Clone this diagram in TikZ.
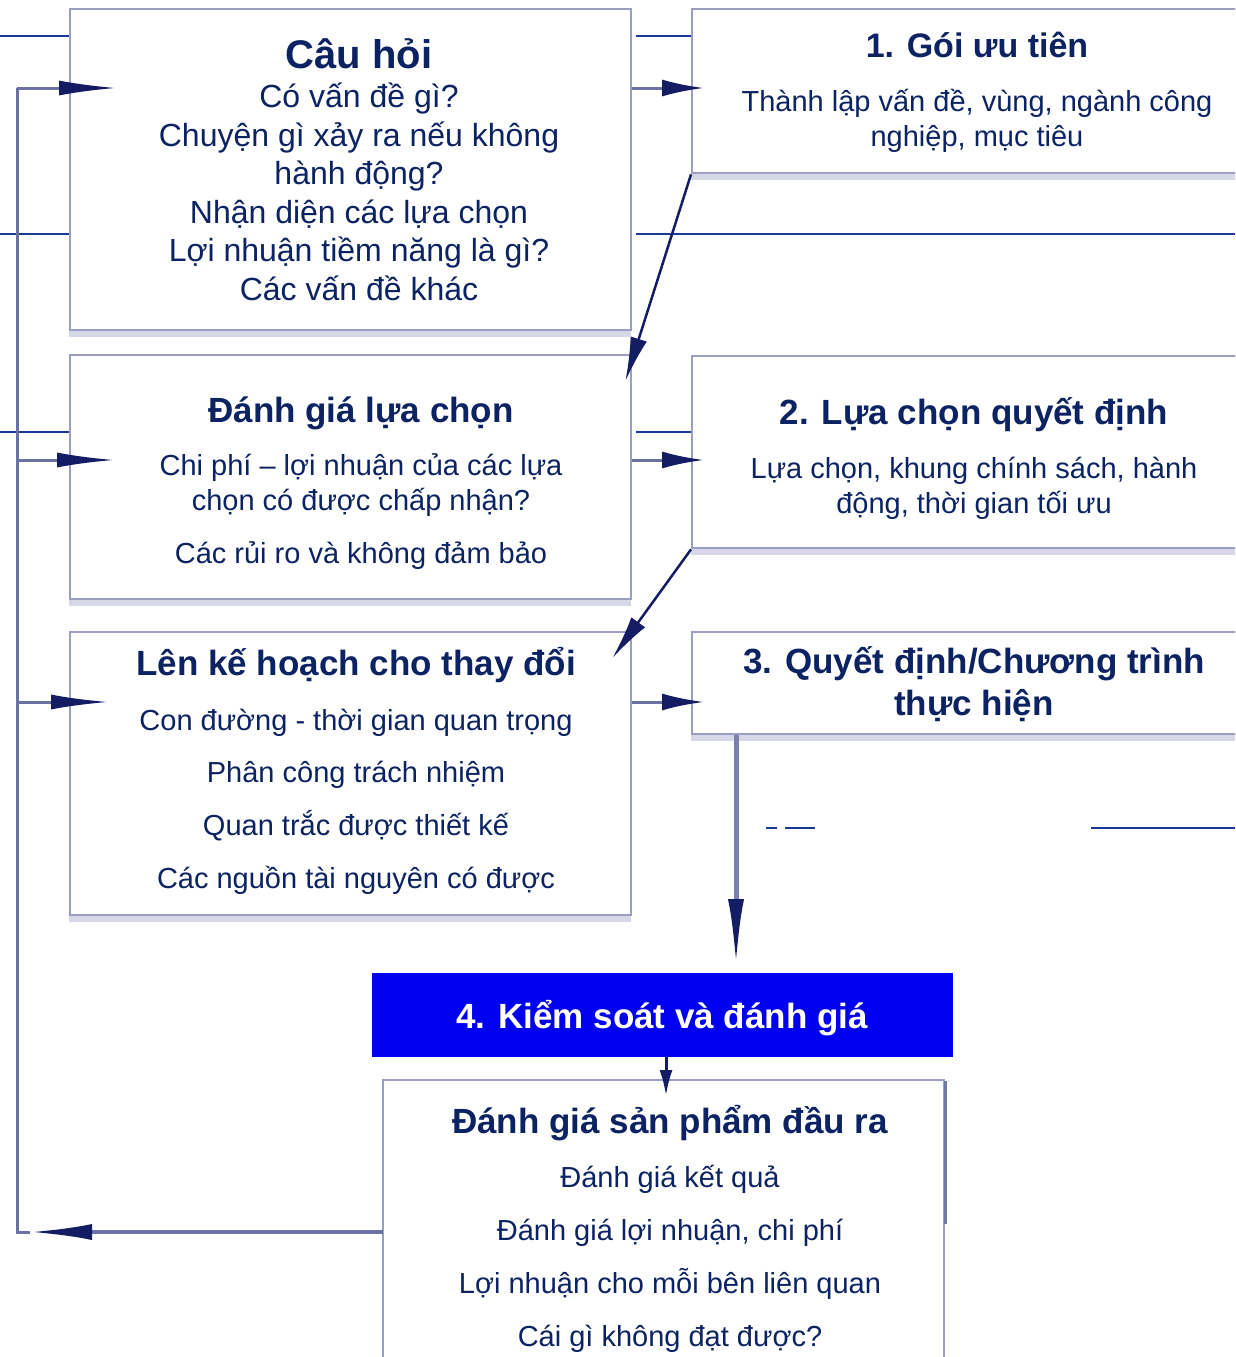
\documentclass[tikz,border=0pt]{standalone}
\usepackage{fontspec}
\setmainfont{Liberation Sans}
\usetikzlibrary{arrows.meta,calc}
\definecolor{navy}{HTML}{0B2263}
\definecolor{edgec}{HTML}{9A9EC2}
\definecolor{shadc}{HTML}{D6D8E8}
\definecolor{thinl}{HTML}{1A3A9A}
\definecolor{linkc}{HTML}{6B71A3}
\definecolor{vlinkc}{HTML}{7A80AC}
\definecolor{tipc}{HTML}{141C64}
\definecolor{boxblue}{HTML}{0000F0}
\begin{document}
\begin{tikzpicture}[x=1pt,y=-1pt,
  boxst/.style={draw=edgec, line width=2.4pt, fill=white, inner sep=0pt, anchor=north west},
  shad/.style={fill=shadc},
  body/.style={anchor=base, text=navy, inner sep=0pt, font=\fontsize{29}{35}\selectfont},
  bodyA/.style={anchor=base, text=navy, inner sep=0pt, font=\fontsize{32}{38}\selectfont},
  ttl/.style={anchor=base, text=navy, inner sep=0pt, font=\fontsize{35}{42}\selectfont\bfseries},
  thin/.style={draw=thinl, line width=1.1pt},
  trunk/.style={draw=linkc, line width=3pt},
  fb/.style={draw=linkc, line width=3pt, -{Latex[length=58pt,width=15pt,color=tipc]}},
  ra/.style={draw=linkc, line width=3pt, -{Latex[length=42pt,width=17pt,color=tipc]}},
  diag/.style={draw=tipc, line width=2.5pt, -{Latex[length=44pt,width=17pt]}},
]
\useasboundingbox (0,0) rectangle (1235,1357);
\clip (0,0) rectangle (1235,1357);
\fill[white] (0,0) rectangle (1235,1357);

% thin background lines
\draw[thin] (0,36) -- (69,36);
\draw[thin] (636,36) -- (691,36);
\draw[thin] (0,234) -- (69,234);
\draw[thin] (636,234) -- (1235,234);
\draw[thin] (0,432) -- (69,432);
\draw[thin] (636,432) -- (691,432);
\draw[thin] (766,828) -- (777,828);
\draw[thin] (785,828) -- (815,828);
\draw[thin] (1091,828) -- (1235,828);

% shadows
\fill[shad] (69,329) rectangle (631,337);
\fill[shad] (691,172) rectangle (1235,180);
\fill[shad] (69,598) rectangle (631,606);
\fill[shad] (691,547) rectangle (1235,555);
\fill[shad] (69,914) rectangle (631,922);
\fill[shad] (691,733) rectangle (1235,741);

% boxes
\node[boxst, minimum width=561pt, minimum height=321pt] (A) at (69,8) {};
\node[boxst, minimum width=600pt, minimum height=164pt] (P1) at (691,8) {};
\node[boxst, minimum width=561pt, minimum height=244pt] (B) at (69,354) {};
\node[boxst, minimum width=600pt, minimum height=192pt] (P2) at (691,355) {};
\node[boxst, minimum width=561pt, minimum height=283pt] (C) at (69,631) {};
\node[boxst, minimum width=600pt, minimum height=102pt] (P3) at (691,631) {};
\node[fill=boxblue, inner sep=0pt, anchor=north west, minimum width=581pt, minimum height=84pt] (P4) at (372,973) {};
\node[boxst, minimum width=561pt, minimum height=400pt] (D) at (382,1079) {};
\draw[draw=edgec!70!navy, line width=3.5pt] ($(D.north east)+(0,2)$) -- ++(0,143);

% texts box A
\node[anchor=base, text=navy, inner sep=0pt, font=\fontsize{40}{48}\selectfont\bfseries] (At) at (359,68) {Câu hỏi};
\node[bodyA] (A1) at (359,107) {Có vấn đề gì?};
\node[bodyA] (A2) at (359,146) {Chuyện gì xảy ra nếu không};
\node[bodyA] (A3) at (359,184) {hành động?};
\node[bodyA] (A4) at (359,223) {Nhận diện các lựa chọn};
\node[bodyA] (A5) at (359,261) {Lợi nhuận tiềm năng là gì?};
\node[bodyA] (A6) at (359,300) {Các vấn đề khác};

% box 1
\node[anchor=base, text=navy, inner sep=0pt, font=\fontsize{34}{40}\selectfont\bfseries] (P1t) at (977,57) {1. Gói ưu tiên};
\node[body] (P1a) at (977,111) {Thành lập vấn đề, vùng, ngành công};
\node[body] (P1b) at (977,146) {nghiệp, mục tiêu};

% box B
\node[ttl] (Bt) at (361,422) {Đánh giá lựa chọn};
\node[body] (B1) at (361,475) {Chi phí – lợi nhuận của các lựa};
\node[body] (B2) at (361,510) {chọn có được chấp nhận?};
\node[body] (B3) at (361,563) {Các rủi ro và không đảm bảo};

% box 2
\node[ttl] (P2t) at (974,424) {2. Lựa chọn quyết định};
\node[body] (P2a) at (974,478) {Lựa chọn, khung chính sách, hành};
\node[body] (P2b) at (974,513) {động, thời gian tối ưu};

% box C
\node[ttl] (Ct) at (356,675) {Lên kế hoạch cho thay đổi};
\node[body] (C1) at (356,730) {Con đường - thời gian quan trọng};
\node[body] (C2) at (356,782) {Phân công trách nhiệm};
\node[body] (C3) at (356,835) {Quan trắc được thiết kế};
\node[body] (C4) at (356,888) {Các nguồn tài nguyên có được};

% box 3
\node[ttl] (P3t) at (974,673) {3. Quyết định/Chương trình};
\node[ttl] (P3u) at (974,715) {thực hiện};

% box 4
\node[ttl, text=white] (P4t) at (662,1028) {4. Kiểm soát và đánh giá};

% box D
\node[ttl] (Dt) at (670,1133) {Đánh giá sản phẩm đầu ra};
\node[body] (D1) at (670,1187) {Đánh giá kết quả};
\node[body] (D2) at (670,1240) {Đánh giá lợi nhuận, chi phí};
\node[body] (D3) at (670,1293) {Lợi nhuận cho mỗi bên liên quan};
\node[body] (D4) at (670,1346) {Cái gì không đạt được?};

% coordinates for connectors
\coordinate (tA) at (17,88);
\coordinate (tB) at (17,460);
\coordinate (tC) at (17,702);
\coordinate (tBot) at (17,1232);
\coordinate (fbTip) at (30,1232);
\coordinate (Dout) at ($(D.north west)+(1,153)$);
\coordinate (Ain) at ($(A.north west)+(48,80)$);
\coordinate (Bin) at ($(B.north west)+(46,106)$);
\coordinate (Cin) at ($(C.north west)+(40,71)$);
\coordinate (Aout) at ($(A.north east)+(0,80)$);
\coordinate (P1in) at ($(P1.north west)+(13,80)$);
\coordinate (Bout) at ($(B.north east)+(0,106)$);
\coordinate (P2in) at ($(P2.north west)+(13,105)$);
\coordinate (Cout) at ($(C.north east)+(0,71)$);
\coordinate (P3in) at ($(P3.north west)+(13,71)$);
\coordinate (Btip) at ($(B.north east)+(-7,27)$);
\coordinate (Ctip) at ($(C.north east)+(-20,27)$);
\coordinate (P3out) at ($(P3.south west)+(45,0)$);
\coordinate (P4tip) at ($(P4.north west)+(364,-6)$);
\coordinate (P4out) at ($(P4.south west)+(294,0)$);
\coordinate (Dtip) at ($(D.north west)+(284,17)$);

% feedback loop
\draw[trunk] (fbTip) -- (tBot) -- (tA);
\draw[draw=linkc, line width=4pt, -{Latex[length=62pt,width=16pt,color=tipc]}] (Dout) -- (fbTip);
\draw[fb] (tA) -- (Ain);
\draw[fb] (tB) -- (Bin);
\draw[fb] (tC) -- (Cin);

% right arrows
\draw[ra] (Aout) -- (P1in);
\draw[ra] (Bout) -- (P2in);
\draw[ra] (Cout) -- (P3in);

% diagonal arrows
\draw[diag] (P1.south west) -- (Btip);
\draw[diag] (P2.south west) -- (Ctip);

% down arrows
\draw[draw=vlinkc, line width=5pt, -{Latex[length=68pt,width=16pt,color=tipc]}] (P3out) -- (P4tip);
\draw[draw=tipc, line width=3pt, -{Latex[length=26pt,width=13pt]}] (P4out) -- (Dtip);
\end{tikzpicture}
\end{document}
